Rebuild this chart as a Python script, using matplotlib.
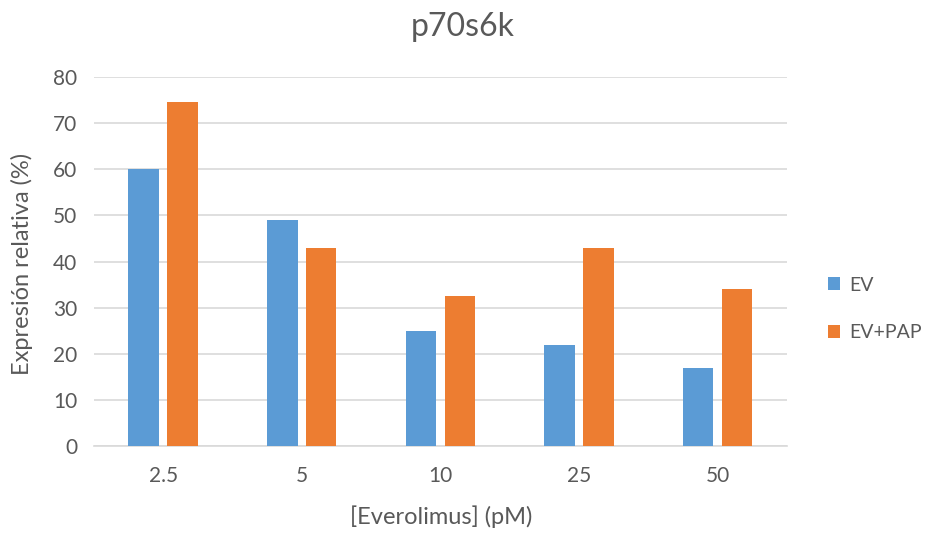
import matplotlib
matplotlib.use("Agg")
import matplotlib.pyplot as plt
import numpy as np

categories = ["2.5", "5", "10", "25", "50"]
ev = [60, 49, 25, 22, 17]
ev_pap = [74.5, 43, 32.5, 43, 34]
yticks = [0, 10, 20, 30, 40, 50, 60, 70, 80]

plt.rcParams['font.family'] = ['Lato', 'DejaVu Sans']
txt = '#595959'

fig = plt.figure(figsize=(9.29, 5.33), dpi=100)
ax = fig.add_axes([0.101, 0.163, 0.746, 0.6925])

x = np.arange(len(categories))
w = 0.22
off = 0.14
ax.bar(x - off, ev, w, color='#5b9bd5', label='EV', zorder=3)
ax.bar(x + off, ev_pap, w, color='#ed7d31', label='EV+PAP', zorder=3)

ax.set_xlim(-0.5, len(categories) - 0.5)
ax.set_ylim(0, 80)
ax.set_yticks(yticks)
ax.set_xticks(x)
ax.set_xticklabels(categories)
ax.tick_params(axis='both', length=0, labelsize=15, colors=txt)
ax.tick_params(axis='x', pad=14)
ax.tick_params(axis='y', pad=12)
ax.yaxis.grid(True, color='#d9d9d9', linewidth=1.2, zorder=0)
for s in ['top', 'right', 'left']:
    ax.spines[s].set_visible(False)
ax.spines['bottom'].set_color('#d9d9d9')
ax.spines['bottom'].set_linewidth(1.2)

fig.text(0.475, 1 - 517 / 533, '[Everolimus] (pM)', ha='center', va='center',
         fontsize=17, color=txt)
fig.text(22 / 929, 1 - 264 / 533, 'Expresión relativa (%)', ha='center', va='center',
         rotation=90, fontsize=17, color=txt)
fig.text(463 / 929, 1 - 27 / 533, 'p70s6k', ha='center', va='center', fontsize=23, color=txt)

leg = ax.legend(loc='center left', bbox_to_anchor=(1.0, 0.372), frameon=False,
                fontsize=14, handlelength=0.65, handleheight=0.65,
                labelspacing=1.55, handletextpad=0.45, borderaxespad=1.7)
for t in leg.get_texts():
    t.set_color(txt)

fig.savefig('out.png', dpi=100)
